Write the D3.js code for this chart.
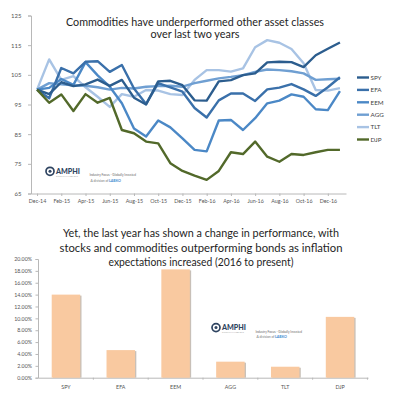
<!DOCTYPE html>
<html>
<head>
<meta charset="utf-8">
<script src="https://cdn.jsdelivr.net/npm/d3@7"></script>
<style>
  body { margin:0; background:#fff; }
  svg text { font-family: Lato, "Open Sans", sans-serif; }
</style>
</head>
<body>
<svg id="chart" width="400" height="396"></svg>
<script>
// top chart: indexed performance, Dec-14 = 100
var months = ["Dec-14","Jan-15","Feb-15","Mar-15","Apr-15","May-15","Jun-15","Jul-15","Aug-15","Sep-15","Oct-15","Nov-15",
  "Dec-15","Jan-16","Feb-16","Mar-16","Apr-16","May-16","Jun-16","Jul-16","Aug-16","Sep-16","Oct-16","Nov-16","Dec-16","Jan-17"];
var yTicks = [65, 75, 85, 95, 105, 115, 125];
var seriesNames = ["SPY", "EFA", "EEM", "AGG", "TLT", "DJP"];
var spy = [100, 98.5, 102.5, 101.2, 101.8, 103.4, 101.3, 103.3, 97.3, 95.0, 102.8, 103.0, 101.5, 96.4, 96.3, 102.8, 103.2, 104.9, 105.5, 109.2, 109.4, 109.3, 107.6, 111.6, 113.8, 115.9];
var efa = [100, 97.1, 107.3, 105.5, 109.4, 109.6, 106.0, 108.3, 100.4, 95.2, 102.2, 100.8, 99.3, 93.8, 90.6, 96.4, 98.7, 98.7, 96.2, 100.1, 100.7, 101.9, 100.1, 97.9, 100.8, 104.2];
var eem = [100, 100.6, 103.6, 101.6, 109.3, 104.8, 101.0, 95.4, 86.9, 84.2, 89.6, 87.3, 83.6, 79.7, 79.2, 89.6, 89.8, 86.4, 90.4, 95.4, 96.3, 98.4, 97.6, 93.4, 93.1, 99.5];
var agg = [100, 102.2, 101.8, 101.5, 101.3, 100.8, 100.0, 100.6, 100.4, 101.0, 101.2, 101.3, 101.0, 102.2, 103.0, 103.8, 104.3, 104.9, 106.0, 106.8, 106.6, 106.2, 105.5, 103.3, 103.5, 103.7];
var tlt = [100, 110.2, 103.3, 104.6, 100.8, 97.6, 94.2, 98.5, 97.6, 99.9, 99.7, 98.5, 98.2, 103.3, 106.6, 106.6, 106.1, 107.2, 114.3, 116.7, 115.8, 113.7, 108.9, 99.9, 99.7, 100.5];
var djp = [100, 95.6, 98.4, 92.8, 98.5, 95.6, 97.2, 86.4, 85.3, 82.5, 81.9, 75.2, 72.6, 71.0, 69.6, 72.6, 78.9, 78.3, 82.5, 77.4, 75.7, 78.3, 78.0, 78.9, 79.7, 79.7];
var seriesColors = ["#2c5d8e", "#3a70aa", "#4b88c6", "#6f9fd2", "#a8c3e4", "#52692a"];

// bottom chart: return 2016 to present
var tickers = ["SPY", "EFA", "EEM", "AGG", "TLT", "DJP"];
var returns = [14.0, 4.65, 18.25, 2.7, 1.85, 10.25];
var barTicks = [0, 2, 4, 6, 8, 10, 12, 14, 16, 18, 20];

var svg = d3.select("#chart");
var allSeries = [spy, efa, eem, agg, tlt, djp];

// ---------- top line chart ----------
var x = d3.scalePoint().domain(months).range([31, 346]).padding(0.5);
var y = d3.scaleLinear().domain([65, 125]).range([193.5, 15.5]);

var topG = svg.append("g");

topG.append("g")
    .attr("transform", "translate(31,0)")
    .call(d3.axisLeft(y).tickValues(yTicks).tickSize(3).tickPadding(6.5))
    .call(function(g) {
      g.select(".domain").attr("stroke", "#b8b8b8");
      g.selectAll(".tick line").attr("stroke", "#b8b8b8");
      g.selectAll("text").attr("fill", "#555").style("font-size", "6px");
    });

topG.append("g")
    .attr("transform", "translate(0,193.5)")
    .call(d3.axisBottom(x).tickValues(months.filter(function(m, i) { return i % 2 === 0; })).tickSize(2.5).tickPadding(3).tickSizeOuter(0))
    .call(function(g) {
      g.select(".domain").attr("stroke", "#b8b8b8");
      g.selectAll(".tick line").attr("stroke", "#b8b8b8");
      g.selectAll("text").attr("fill", "#555").style("font-size", "5.3px");
    });

topG.append("text")
    .attr("x", 195).attr("y", 25.8)
    .attr("text-anchor", "middle")
    .attr("textLength", 258).attr("lengthAdjust", "spacingAndGlyphs")
    .style("font-size", "11px").attr("fill", "#1e1e1e")
    .text("Commodities have underperformed other asset classes");
topG.append("text")
    .attr("x", 195).attr("y", 38.4)
    .attr("text-anchor", "middle")
    .attr("textLength", 89).attr("lengthAdjust", "spacingAndGlyphs")
    .style("font-size", "11px").attr("fill", "#1e1e1e")
    .text("over last two years");

var line = d3.line()
    .x(function(d, i) { return x(months[i]); })
    .y(function(d) { return y(d); });

// draw lightest first so darker series sit on top, DJP last
var drawOrder = [4, 3, 2, 1, 0, 5];
topG.append("g").selectAll("path")
    .data(drawOrder)
    .enter().append("path")
      .attr("d", function(k) { return line(allSeries[k]); })
      .attr("fill", "none")
      .attr("stroke", function(k) { return seriesColors[k]; })
      .attr("stroke-width", 2.4)
      .attr("stroke-linejoin", "round");

var legend = topG.append("g").selectAll("g")
    .data(seriesNames)
    .enter().append("g")
      .attr("transform", function(d, i) { return "translate(357," + (77.5 + i * 12.4) + ")"; });
legend.append("line")
    .attr("x1", 0).attr("x2", 12)
    .attr("stroke", function(d, i) { return seriesColors[i]; })
    .attr("stroke-width", 2.4);
legend.append("text")
    .attr("x", 13.5).attr("dy", "0.35em")
    .style("font-size", "6.3px").attr("fill", "#444")
    .text(function(d) { return d; });

// ---------- logo watermark ----------
function logo(g, lx, ly) {
  g.append("circle").attr("cx", lx + 5).attr("cy", ly).attr("r", 4)
      .attr("fill", "none").attr("stroke", "#2f4461").attr("stroke-width", 1.7);
  g.append("circle").attr("cx", lx + 5).attr("cy", ly).attr("r", 1.5).attr("fill", "#2f4461");
  g.append("text").attr("x", lx + 11).attr("y", ly + 2.6)
      .attr("textLength", 24).attr("lengthAdjust", "spacingAndGlyphs")
      .style("font-size", "8px").style("font-weight", "900").attr("fill", "#2f4461")
      .text("AMPHI");
  g.append("text").attr("x", lx + 11).attr("y", ly + 5.6)
      .attr("textLength", 22).attr("lengthAdjust", "spacingAndGlyphs")
      .style("font-size", "1.6px").attr("fill", "#999")
      .text("CAPITAL MANAGEMENT");
  g.append("text").attr("x", lx + 44.5).attr("y", ly + 5)
      .attr("textLength", 46.5).attr("lengthAdjust", "spacingAndGlyphs")
      .style("font-size", "3px").attr("fill", "#666")
      .text("Industry Focus - Globally Invested");
  g.append("text").attr("x", lx + 45.5).attr("y", ly + 10.8)
      .attr("textLength", 18).attr("lengthAdjust", "spacingAndGlyphs")
      .style("font-size", "3px").attr("fill", "#777")
      .text("A division of ");
  g.append("text").attr("x", lx + 64).attr("y", ly + 10.8)
      .attr("textLength", 12).attr("lengthAdjust", "spacingAndGlyphs")
      .style("font-size", "3.2px").style("font-weight", "bold").attr("fill", "#3c8ad0")
      .text("LABKO");
}
logo(topG, 45, 171.3);

// ---------- bottom bar chart ----------
var bx = d3.scaleBand().domain(tickers).range([38, 368]).paddingInner(0.48).paddingOuter(0.25);
var by = d3.scaleLinear().domain([0, 20]).range([377.7, 259]);

var bottomG = svg.append("g");

bottomG.append("g")
    .attr("transform", "translate(38,0)")
    .call(d3.axisLeft(by).tickValues(barTicks).tickSize(2.5).tickPadding(3.5)
      .tickFormat(function(d) { return d3.format(".2%")(d / 100); }))
    .call(function(g) {
      g.select(".domain").attr("stroke", "#b8b8b8");
      g.selectAll(".tick line").attr("stroke", "#b8b8b8");
      g.selectAll("text").attr("fill", "#555").style("font-size", "5.3px");
    });

bottomG.append("g")
    .attr("transform", "translate(0,377.7)")
    .call(d3.axisBottom(bx).tickSize(2).tickPadding(6).tickSizeOuter(0))
    .call(function(g) {
      g.select(".domain").attr("stroke", "#b8b8b8");
      g.selectAll(".tick line").attr("stroke", "#b8b8b8")
        .attr("transform", "translate(" + (bx.step() / 2) + ",0)");
      g.selectAll("text").attr("fill", "#555").style("font-size", "5.3px");
    });

var bars = bottomG.append("g").selectAll("g")
    .data(tickers)
    .enter().append("g");
bars.append("rect")
    .attr("x", function(d) { return bx(d) + 1.3; })
    .attr("y", function(d, i) { return by(returns[i]) + 1; })
    .attr("width", bx.bandwidth())
    .attr("height", function(d, i) { return by(0) - by(returns[i]) - 1; })
    .attr("fill", "#c8c0b8");
bars.append("rect")
    .attr("x", function(d) { return bx(d); })
    .attr("y", function(d, i) { return by(returns[i]); })
    .attr("width", bx.bandwidth())
    .attr("height", function(d, i) { return by(0) - by(returns[i]); })
    .attr("fill", "#f9c9a0");

var titleLines = [
  "Yet, the last year has shown a change in performance, with",
  "stocks and commodities outperforming bonds as inflation",
  "expectations increased (2016 to present)"
];
var titleWidths = [276, 283, 185];
bottomG.append("g").selectAll("text")
    .data(titleLines)
    .enter().append("text")
      .attr("x", 201)
      .attr("y", function(d, i) { return 237.3 + i * 14.2; })
      .attr("text-anchor", "middle")
      .attr("textLength", function(d, i) { return titleWidths[i]; })
      .attr("lengthAdjust", "spacingAndGlyphs")
      .style("font-size", "11.5px").attr("fill", "#1e1e1e")
      .text(function(d) { return d; });

logo(bottomG, 211, 327.6);
</script>
</body>
</html>
